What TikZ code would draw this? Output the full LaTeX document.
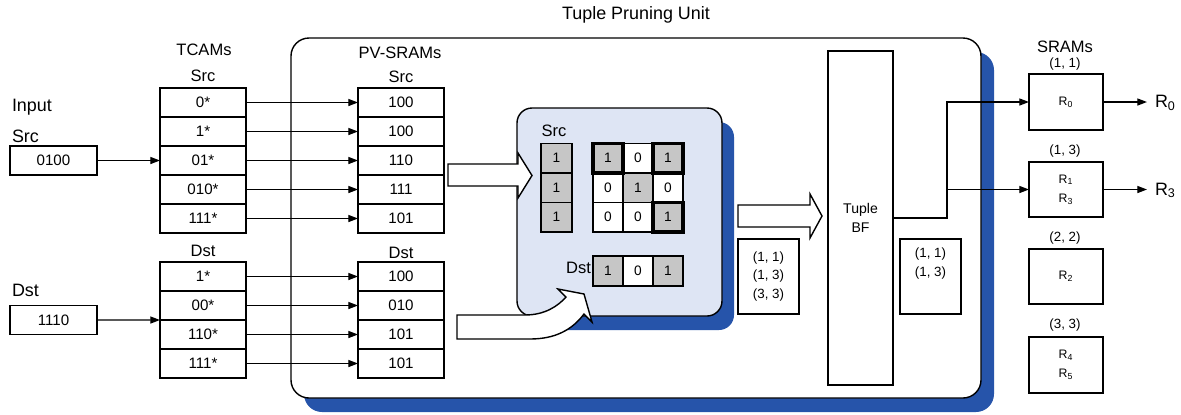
\documentclass[tikz,border=0pt]{standalone}
\usepackage{fontspec}
\setmainfont{Liberation Sans}
\usetikzlibrary{arrows.meta}
\definecolor{shadowblue}{RGB}{38,84,170}
\definecolor{panelblue}{RGB}{222,229,244}
\definecolor{cellgrey}{RGB}{198,198,198}
\begin{document}
\begin{tikzpicture}[x=0.02cm,y=-0.02cm,
  every node/.style={inner sep=0pt,outer sep=0pt},
  lbl/.style={font=\fontsize{9.4}{11}\selectfont},
  biglbl/.style={font=\fontsize{10.2}{12}\selectfont},
  cell/.style={draw,line width=0.8pt,fill=white,minimum width=86*0.02cm,minimum height=29*0.02cm,font=\fontsize{8.6}{10}\selectfont},
  bit/.style={draw,line width=0.7pt,fill=white,minimum width=30*0.02cm,minimum height=29.5*0.02cm,font=\fontsize{7.8}{9}\selectfont},
  on/.style={fill=cellgrey},
  hit/.style={draw,line width=1.9pt},
  rbox/.style={draw,line width=0.8pt,fill=white,minimum width=74*0.02cm,minimum height=56*0.02cm,align=center,font=\fontsize{7}{11}\selectfont},
  small/.style={font=\fontsize{7.6}{10.5}\selectfont,align=center},
  arr/.style={line width=0.7pt,-{Triangle[length=5.5pt,width=4pt]}},
  fat/.style={draw,line width=0.8pt,fill=white,line join=miter},
  outlbl/.style={biglbl,anchor=west,inner xsep=8*0.02cm},
]
\useasboundingbox (0,0) rectangle (1181,414);

% titles
\node[biglbl] (title) at (636,15) {Tuple Pruning Unit};
\node[lbl] (sramtitle) at (1065,47) {SRAMs};

% outer unit with its drop shadow
\node[fill=shadowblue,rounded corners=0.36cm,minimum width=690*0.02cm,minimum height=360*0.02cm] (tpushadow) at (649,232) {};
\node[draw,line width=0.8pt,fill=white,rounded corners=0.36cm,minimum width=690*0.02cm,minimum height=360*0.02cm] (tpu) at (636,218) {};

% input fields
\node[biglbl,anchor=west] (inlbl) at (12,107) {Input};
\node[biglbl,anchor=west] (insrclbl) at (12,136) {Src};
\node[cell,minimum width=87*0.02cm] (insrc) at (53.5,160.5) {0100};
\node[biglbl,anchor=west] (indstlbl) at (12,290) {Dst};
\node[cell,minimum width=87*0.02cm] (indst) at (53.5,320) {1110};

% TCAMs
\node[lbl] (tcamlbl) at (204,50) {TCAMs};
\node[lbl] (tcsl) at (203,76) {Src};
\node[cell] (ts1) at (203,102.5) {0*};
\node[cell] (ts2) at (203,131.5) {1*};
\node[cell] (ts3) at (203,160.5) {01*};
\node[cell] (ts4) at (203,189.5) {010*};
\node[cell] (ts5) at (203,218.5) {111*};
\node[lbl] (tcdl) at (203,251) {Dst};
\node[cell] (td1) at (203,276.5) {1*};
\node[cell] (td2) at (203,305.5) {00*};
\node[cell] (td3) at (203,334.5) {110*};
\node[cell] (td4) at (203,363.5) {111*};

% PV-SRAMs
\node[lbl] (pvlbl) at (400,53) {PV-SRAMs};
\node[lbl] (pvsl) at (401,77) {Src};
\node[cell] (ps1) at (401,102.5) {100};
\node[cell] (ps2) at (401,131.5) {100};
\node[cell] (ps3) at (401,160.5) {110};
\node[cell] (ps4) at (401,189.5) {111};
\node[cell] (ps5) at (401,218.5) {101};
\node[lbl] (pvdl) at (401,253) {Dst};
\node[cell] (pd1) at (401,276.5) {100};
\node[cell] (pd2) at (401,305.5) {010};
\node[cell] (pd3) at (401,334.5) {101};
\node[cell] (pd4) at (401,363.5) {101};

% input to TCAM lookups
\draw[arr] (insrc.east) -- (ts3.west);
\draw[arr] (indst.east) -- (td2.south west);

% TCAM matches index the PV-SRAMs
\foreach \i in {1,...,5} \draw[arr] (ts\i.east) -- (ps\i.west);
\foreach \i in {1,...,4} \draw[arr] (td\i.east) -- (pd\i.west);

% pruning panel with its drop shadow
\node[fill=shadowblue,rounded corners=0.3cm,minimum width=205*0.02cm,minimum height=208*0.02cm] (panelshadow) at (631.5,226) {};
\node[draw,line width=0.8pt,fill=panelblue,rounded corners=0.3cm,minimum width=205*0.02cm,minimum height=208*0.02cm] (panel) at (619.5,212) {};

\node[lbl] (psrclbl) at (554,131) {Src};
\node[bit,on,minimum width=31*0.02cm] (c1) at (556.5,158.25) {1};
\node[bit,on,minimum width=31*0.02cm] (c2) at (556.5,187.75) {1};
\node[bit,on,minimum width=31*0.02cm] (c3) at (556.5,217.25) {1};

% cross-product matrix
\node[bit,on] (m11) at (608,158.25) {1};
\node[bit]    (m12) at (638,158.25) {0};
\node[bit,on] (m13) at (668,158.25) {1};
\node[bit]    (m21) at (608,187.75) {0};
\node[bit,on] (m22) at (638,187.75) {1};
\node[bit]    (m23) at (668,187.75) {0};
\node[bit]    (m31) at (608,217.25) {0};
\node[bit]    (m32) at (638,217.25) {0};
\node[bit,on] (m33) at (668,217.25) {1};
\foreach \c in {m11,m13,m33} \draw[hit] (\c.south west) rectangle (\c.north east);

\node[lbl,anchor=east] (pdstlbl) at (591,268) {Dst};
\node[bit,on,minimum height=30*0.02cm] (d1) at (608,271) {1};
\node[bit,minimum height=30*0.02cm]    (d2) at (638,271) {0};
\node[bit,on,minimum height=30*0.02cm] (d3) at (668,271) {1};

% block arrows
\draw[fat] (448,164) -- (518,164) -- (518,153) -- (532,175.5) -- (518,198) -- (518,186) -- (448,186) -- cycle;
\draw[fat] (457,315) -- (525,315) .. controls (545,315) and (558,306) .. (566,297)
  -- (558,289) -- (584,294) -- (592,322) -- (584,314)
  .. controls (572,330) and (555,339) .. (530,339) -- (457,339) -- cycle;
\draw[fat] (738,205) -- (810,205) -- (810,194) -- (822,216) -- (810,238) -- (810,227) -- (738,227) -- cycle;

% candidate tuples, Bloom filter and surviving tuples
\node[draw,line width=0.8pt,fill=white,minimum width=61*0.02cm,minimum height=75*0.02cm,small] (cand) at (768.5,276.5) {(1, 1)\\(1, 3)\\(3, 3)};
\node[draw,line width=0.8pt,fill=white,minimum width=65*0.02cm,minimum height=334*0.02cm,small,font=\fontsize{8}{10.5}\selectfont] (bf) at (860.5,218) {Tuple\\BF};
\node[draw,line width=0.8pt,fill=white,minimum width=61*0.02cm,minimum height=75*0.02cm] (pass) at (930.5,276.5) {};
\node[small,anchor=north] (passtxt) at (930.5,248) {(1, 1)\\(1, 3)};

% rule SRAMs
\node[small] (t11) at (1065,64) {(1, 1)};
\node[rbox] (r0) at (1066,102) {R\textsubscript{0}};
\node[small] (t13) at (1065,151) {(1, 3)};
\node[rbox,minimum height=55*0.02cm] (r13) at (1066,189.5) {R\textsubscript{1}\\R\textsubscript{3}};
\node[small] (t22) at (1065,238) {(2, 2)};
\node[rbox,minimum height=55*0.02cm] (r2) at (1066,276.5) {R\textsubscript{2}};
\node[small] (t33) at (1065,325) {(3, 3)};
\node[rbox] (r45) at (1066,365) {R\textsubscript{4}\\R\textsubscript{5}};

\coordinate (split) at (947,189.5);
\draw[line width=0.7pt] (bf.east) -| (split);
\draw[arr] (split) -- (r13.west);
\draw[arr] (split) |- (r0.west);

\node[outlbl] (out0) at (1147,103) {R\textsubscript{0}};
\node[outlbl] (out3) at (1147,190.5) {R\textsubscript{3}};
\draw[arr] (r0.east) -- (out0.west |- r0.east);
\draw[arr] (r13.east) -- (out3.west |- r13.east);
\end{tikzpicture}
\end{document}
